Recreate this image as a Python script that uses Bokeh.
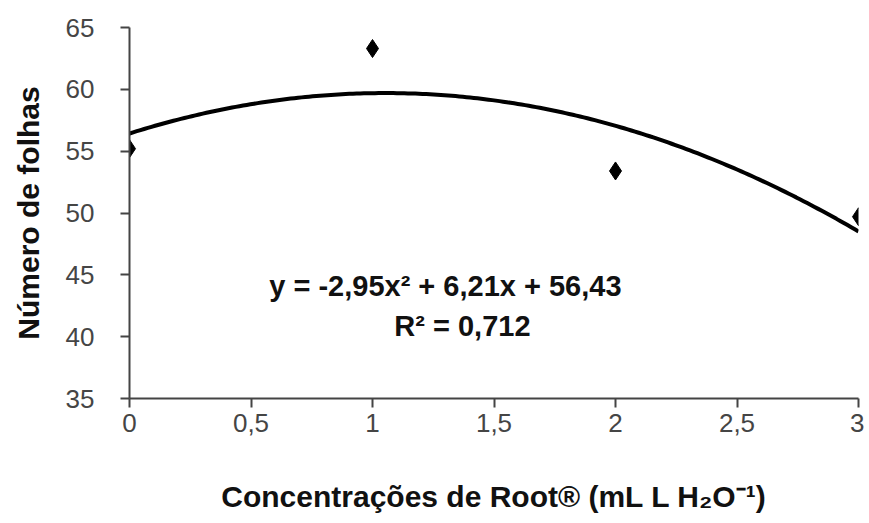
import numpy as np
from bokeh.plotting import figure
from bokeh.models import Range1d, FixedTicker, Label
from bokeh.embed import file_html
from bokeh.resources import INLINE

# data
conc = [0, 1, 2, 3]
folhas = [55.2, 63.3, 53.4, 49.7]
coefs = [-2.95, 6.21, 56.43]   # trend line shown on the chart
x_ticks = [0, 0.5, 1, 1.5, 2, 2.5, 3]
x_tick_labels = ["0", "0,5", "1", "1,5", "2", "2,5", "3"]
y_ticks = [35, 40, 45, 50, 55, 60, 65]
eq_text = "y = -2,95x² + 6,21x + 56,43"
r2_text = "R² = 0,712"

p = figure(width=864, height=515, output_backend="svg", toolbar_location=None,
           x_range=Range1d(0, 3), y_range=Range1d(35, 65),
           min_border_left=129, min_border_top=27, min_border_right=6, min_border_bottom=117)
p.outline_line_color = None
p.grid.grid_line_color = None

xs = np.linspace(0, 3, 200)
ys = np.polyval(coefs, xs)
p.line(xs, ys, line_color="black", line_width=4)
p.scatter(conc, folhas, marker="diamond", size=18, color="black")

for ax in (p.xaxis[0], p.yaxis[0]):
    ax.axis_line_color = "#444444"
    ax.axis_line_width = 2
    ax.major_tick_line_color = "#444444"
    ax.major_tick_line_width = 2
    ax.major_tick_in = 0
    ax.major_tick_out = 9
    ax.minor_tick_line_color = None
    ax.major_label_text_font = "Liberation Sans"
    ax.major_label_text_font_size = "26px"
    ax.major_label_text_color = "#454545"
    ax.axis_label_text_font = "Liberation Sans"
    ax.axis_label_text_font_style = "bold"
    ax.axis_label_text_font_size = "30px"
    ax.axis_label_text_color = "#111111"

p.xaxis.ticker = FixedTicker(ticks=x_ticks)
p.xaxis.major_label_overrides = {t: l for t, l in zip(x_ticks, x_tick_labels)}
p.xaxis.major_label_standoff = 6
p.xaxis.axis_label = "Concentrações de Root® (mL L H₂O⁻¹)"
p.xaxis.axis_label_standoff = 45

p.yaxis.ticker = FixedTicker(ticks=y_ticks)
p.yaxis.major_label_standoff = 26
p.yaxis.axis_label = "Número de folhas"
p.yaxis.axis_label_standoff = 18

p.add_layout(Label(x=1.30, y=44.1, text=eq_text, text_align="center", text_baseline="middle",
                   text_font="Liberation Sans", text_font_style="bold", text_font_size="29px",
                   text_color="#111111"))
p.add_layout(Label(x=1.37, y=40.9, text=r2_text, text_align="center", text_baseline="middle",
                   text_font="Liberation Sans", text_font_style="bold", text_font_size="29px",
                   text_color="#111111"))

open("out.html", "w").write(file_html(p, INLINE))
